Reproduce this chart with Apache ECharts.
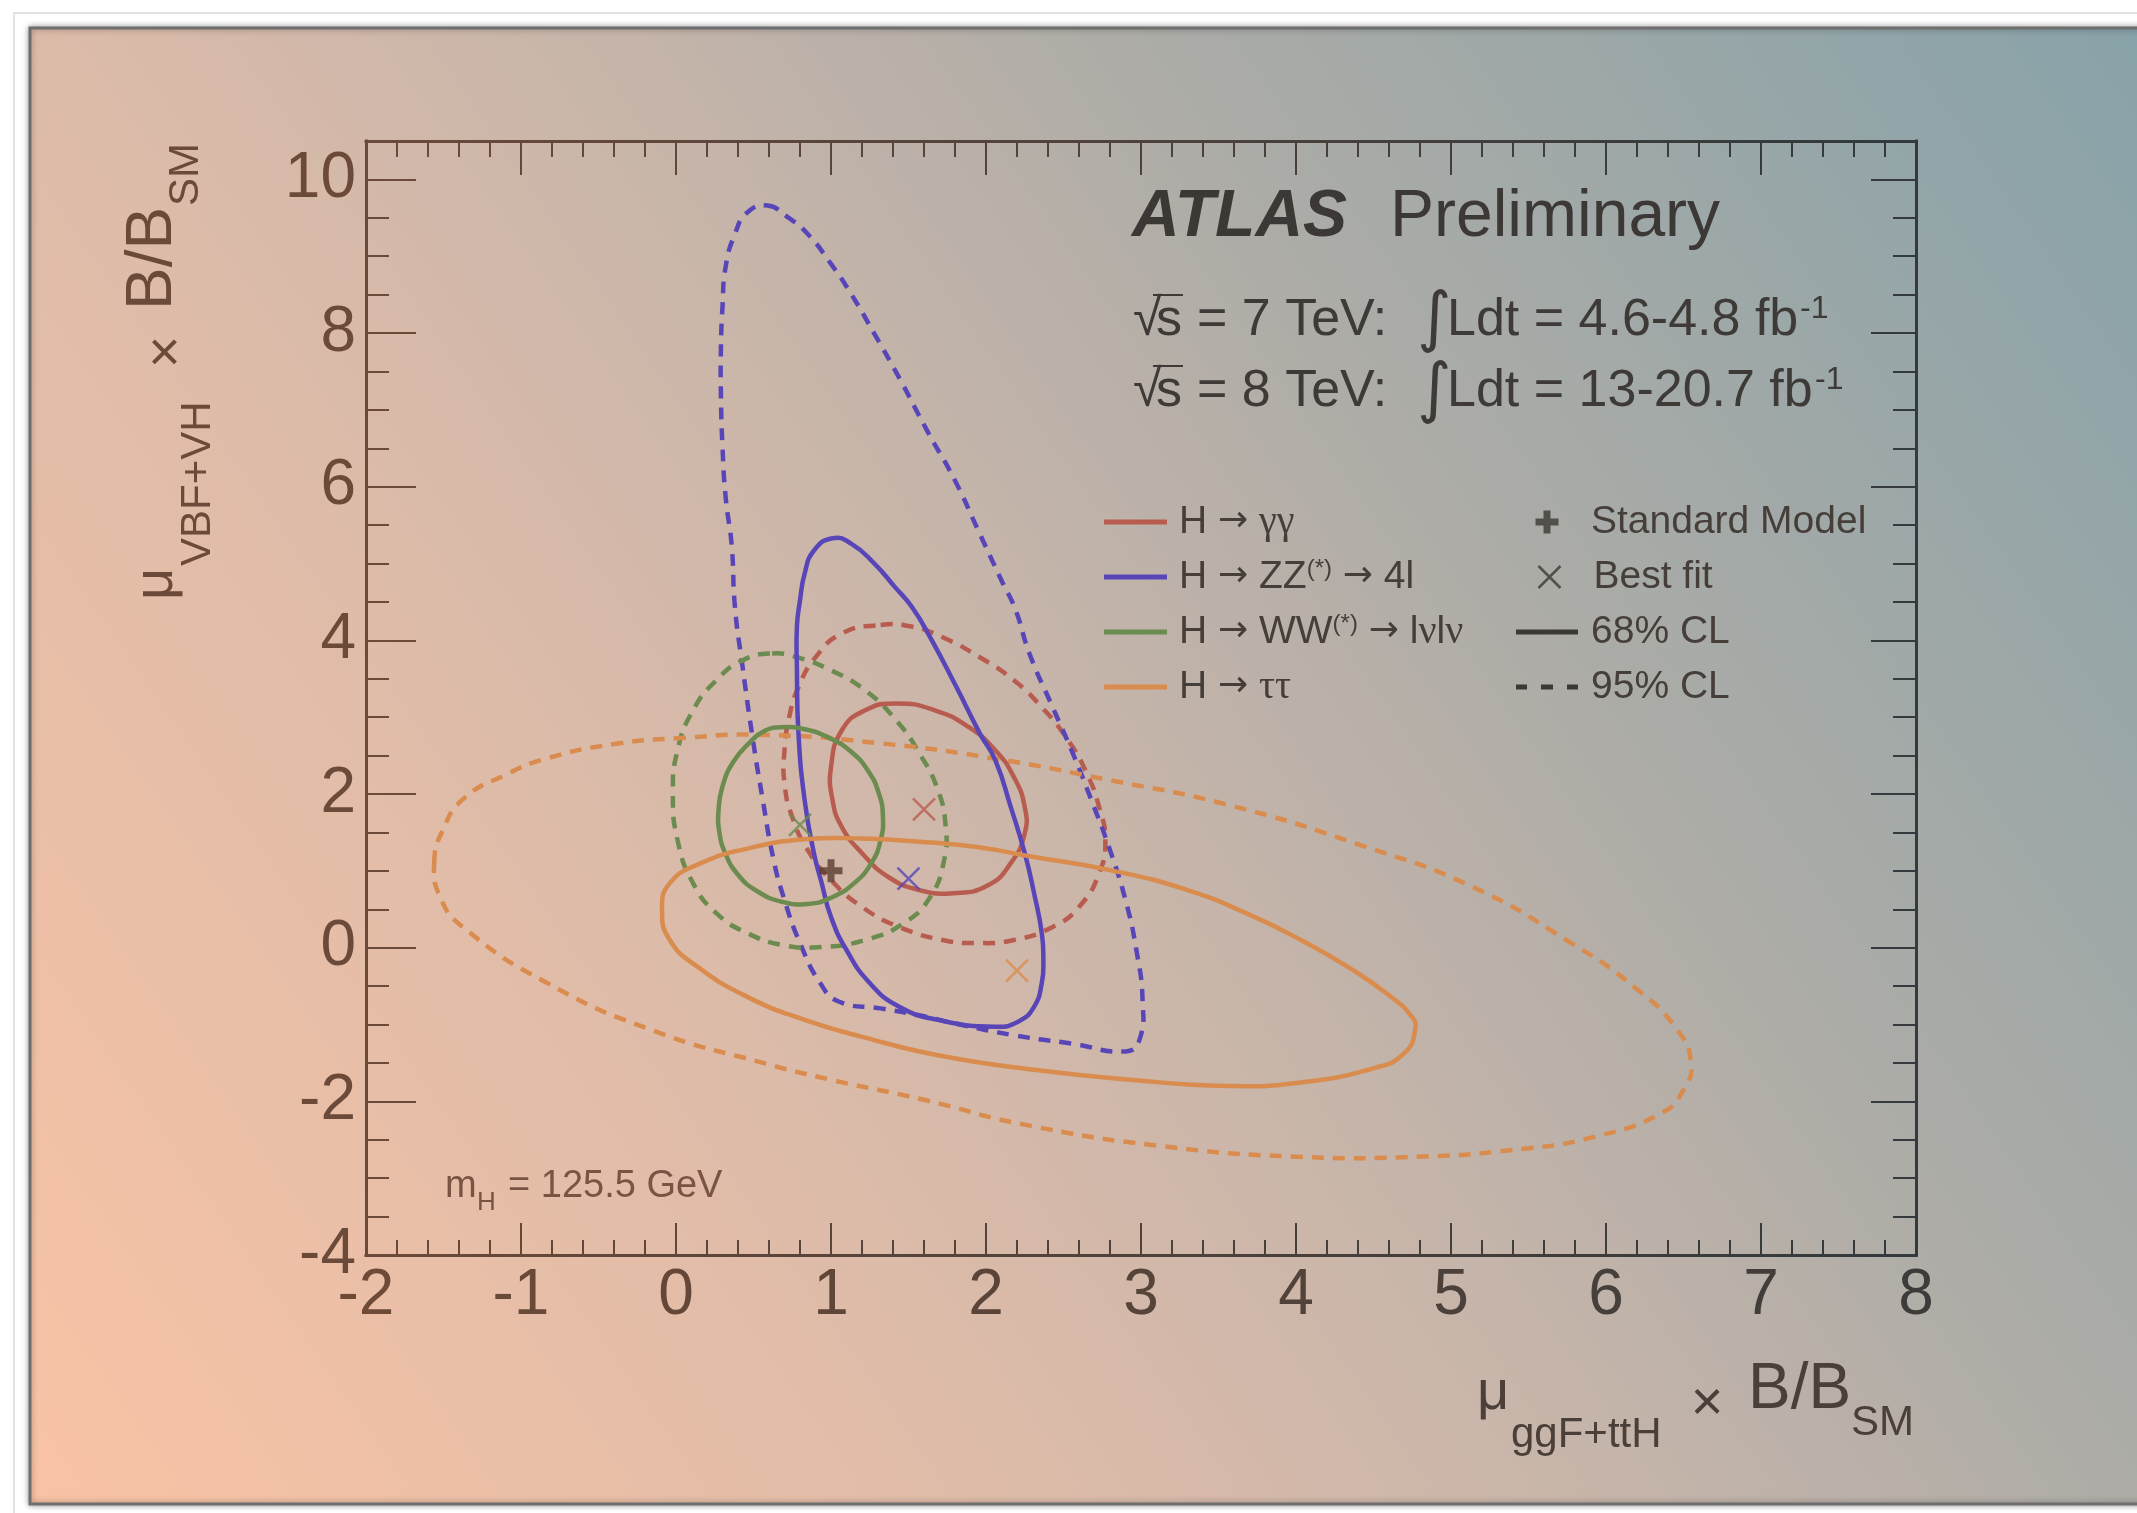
<!DOCTYPE html>
<html>
<head>
<meta charset="utf-8">
<script src="https://cdn.jsdelivr.net/npm/echarts@6/dist/echarts.min.js"></script>
<style>
  html, body { margin: 0; padding: 0; background: #ffffff; }
  #chart { width: 2137px; height: 1513px; }
</style>
</head>
<body>
<div id="chart"></div>
<script>
// ---- decay channels ----
const channels = ['H → γγ', 'H → ZZ(*) → 4l', 'H → WW(*) → lνlν', 'H → ττ'];
const channelColors = ['#b95c50', '#5846b9', '#6b8b4f', '#d98c4d'];

// ---- likelihood contours (μ_ggF+ttH, μ_VBF+VH), 68% CL ----
const gammaGamma68 = [[1.42,3.18],[1.67,3.09],[1.89,2.87],[2.06,2.57],[2.18,2.22],[2.25,1.83],[2.25,1.49],[2.16,1.10],[2.01,0.81],[1.79,0.71],[1.57,0.75],[1.37,0.92],[1.20,1.23],[1.07,1.57],[1.01,1.92],[1.00,2.35],[1.07,2.83],[1.22,3.09]];
const zz68 = [[1.01,5.33],[1.13,5.26],[1.28,5.00],[1.41,4.70],[1.52,4.44],[1.64,4.04],[1.81,3.39],[1.96,2.79],[2.06,2.44],[2.16,1.83],[2.25,1.23],[2.31,0.71],[2.36,0.19],[2.37,-0.16],[2.36,-0.46],[2.31,-0.77],[2.21,-0.96],[2.06,-1.03],[1.69,-0.94],[1.44,-0.77],[1.25,-0.46],[1.10,-0.03],[1.00,0.40],[0.94,0.84],[0.89,1.23],[0.83,1.92],[0.79,2.79],[0.78,3.65],[0.78,4.18],[0.80,4.52],[0.83,4.87],[0.89,5.17]];
const ww68 = [[0.68,2.87],[0.84,2.84],[0.99,2.73],[1.13,2.55],[1.24,2.30],[1.31,2.00],[1.335,1.70],[1.32,1.40],[1.26,1.10],[1.15,0.84],[1.00,0.65],[0.85,0.57],[0.68,0.60],[0.52,0.74],[0.40,0.95],[0.32,1.22],[0.28,1.50],[0.275,1.80],[0.30,2.10],[0.37,2.42],[0.48,2.68],[0.57,2.82]];
const tautau68 = [[-0.09,0.49],[-0.04,0.84],[0.16,1.10],[0.46,1.29],[0.83,1.41],[1.20,1.42],[1.57,1.38],[1.94,1.31],[2.31,1.18],[2.80,1.01],[3.30,0.75],[3.71,0.42],[4.05,0.08],[4.35,-0.27],[4.60,-0.62],[4.74,-0.88],[4.77,-1.05],[4.70,-1.37],[4.50,-1.57],[4.00,-1.76],[3.56,-1.80],[2.93,-1.72],[2.31,-1.59],[1.69,-1.40],[1.20,-1.16],[0.83,-0.94],[0.46,-0.64],[0.14,-0.25],[-0.04,0.10]];

// ---- 95% CL ----
const gammaGamma95 = [[1.32,4.20],[1.52,4.18],[1.72,4.04],[1.96,3.78],[2.18,3.48],[2.36,3.13],[2.53,2.70],[2.65,2.27],[2.73,1.83],[2.77,1.40],[2.73,0.97],[2.60,0.53],[2.43,0.27],[2.18,0.10],[1.94,0.06],[1.72,0.10],[1.44,0.27],[1.20,0.53],[1.00,0.88],[0.85,1.27],[0.75,1.70],[0.70,2.14],[0.70,2.57],[0.73,3.00],[0.79,3.39],[0.90,3.78],[1.07,4.09]];
const zz95 = [[0.59,9.66],[0.72,9.51],[0.85,9.29],[1.00,8.90],[1.13,8.51],[1.28,7.99],[1.45,7.38],[1.62,6.73],[1.80,6.08],[1.95,5.43],[2.10,4.78],[2.19,4.40],[2.28,3.83],[2.43,3.13],[2.56,2.53],[2.68,1.92],[2.80,1.27],[2.90,0.62],[2.97,-0.03],[3.01,-0.68],[2.99,-1.20],[2.90,-1.35],[2.56,-1.25],[2.18,-1.14],[1.81,-0.99],[1.57,-0.88],[1.32,-0.79],[1.05,-0.70],[0.93,-0.46],[0.80,0.06],[0.70,0.62],[0.63,1.14],[0.56,1.92],[0.49,2.79],[0.43,3.65],[0.38,4.44],[0.36,5.22],[0.32,5.87],[0.30,6.52],[0.29,7.17],[0.29,7.82],[0.30,8.34],[0.32,8.86],[0.38,9.29],[0.46,9.57]];
const ww95 = [[0.62,3.83],[0.78,3.78],[1.00,3.61],[1.22,3.35],[1.42,2.96],[1.57,2.53],[1.69,2.05],[1.74,1.57],[1.73,1.14],[1.64,0.66],[1.47,0.32],[1.22,0.10],[0.95,0.01],[0.70,0.03],[0.46,0.19],[0.26,0.45],[0.11,0.84],[0.01,1.40],[-0.02,2.01],[0.01,2.57],[0.11,3.09],[0.26,3.48],[0.43,3.74]];
const tautau95 = [[-1.56,1.11],[-1.50,1.55],[-1.37,1.94],[-1.10,2.25],[-0.84,2.46],[-0.40,2.65],[0.04,2.73],[0.58,2.77],[1.32,2.66],[2.06,2.46],[2.80,2.18],[3.56,1.86],[4.44,1.32],[5.14,0.79],[5.76,0.08],[6.20,-0.54],[6.46,-1.07],[6.55,-1.52],[6.50,-1.85],[6.37,-2.14],[5.93,-2.46],[5.41,-2.63],[4.79,-2.72],[4.00,-2.72],[3.12,-2.58],[2.24,-2.30],[1.60,-1.98],[1.00,-1.72],[0.58,-1.51],[-0.16,-1.07],[-0.84,-0.45],[-1.37,0.26],[-1.52,0.65]];

// ---- points ----
const bestFit = [[1.6,1.8],[1.5,0.9],[0.8,1.6],[2.2,-0.3]];   // same order as channels
const standardModel = [[1,1]];

// ---- axis ranges ----
const xRange = [-2, 8];
const yRange = [-4, 10.5];
const yLabelValues = [-4, -2, 0, 2, 4, 6, 8, 10];

// ---- styling helpers ----
const FONT = '"Liberation Sans", Arial, Helvetica, sans-serif';
const SERIF = '"Liberation Serif", "Times New Roman", serif';
const ARROWFONT = '"DejaVu Sans", sans-serif';
const BROWN = '#6c4a39';
const DARK = '#3b3936';

function hex(c) { return [1,3,5].map(i => parseInt(c.slice(i, i + 2), 16)); }
function mix(a, b, t) {
  const A = hex(a), B = hex(b);
  return 'rgb(' + A.map((v, i) => Math.round(v + (B[i] - v) * t)).join(',') + ')';
}

const GRID = { left: 366, top: 141, width: 1550, height: 1114 };
const hGrad = {
  type: 'linear', global: true, x: GRID.left, y: 0, x2: GRID.left + GRID.width, y2: 0,
  colorStops: [{ offset: 0, color: '#6b4a3a' }, { offset: 1, color: '#32393c' }]
};

// ---- series ----
const contourSets = [
  { c68: gammaGamma68, c95: gammaGamma95 },
  { c68: zz68, c95: zz95 },
  { c68: ww68, c95: ww95 },
  { c68: tautau68, c95: tautau95 }
];
const DASH = [12, 9];
const SMOOTH = 0.5;

// a closed, smoothed contour: the whole loop is drawn once, mapped through the cartesian axes
function contourSeries(name, pts, color, dashed, z) {
  return {
    type: 'custom', name, coordinateSystem: 'cartesian2d', data: pts, silent: true, z,
    encode: { x: 0, y: 1 },
    itemStyle: { color },
    renderItem: (params, api) => {
      if (params.dataIndex !== 0) return null;
      return {
        type: 'polygon',
        shape: { points: pts.map(p => api.coord(p)), smooth: SMOOTH },
        style: { fill: 'none', stroke: color, lineWidth: 4.5, lineDash: dashed ? DASH : null }
      };
    }
  };
}
const series = [];
contourSets.forEach((c, i) => series.push(contourSeries(channels[i] + ' 95%', c.c95, channelColors[i], true, 3)));
contourSets.forEach((c, i) => series.push(contourSeries(channels[i], c.c68, channelColors[i], false, 4)));

const CROSS = 'path://M0,0L10,10M10,0L0,10';
const PLUS = 'path://M8,0H15V8H23V15H15V23H8V15H0V8H8Z';
series.push({
  type: 'scatter', name: 'Best fit', symbol: CROSS, symbolSize: 22, silent: true, z: 6,
  itemStyle: { color: 'none', borderColor: DARK, borderWidth: 2.5 },
  data: bestFit.map((p, i) => ({ value: p, itemStyle: { color: 'none', borderColor: channelColors[i], borderWidth: 2.5 } }))
});
series.push({
  type: 'scatter', name: 'Standard Model', symbol: PLUS, symbolSize: 23, silent: true, z: 7,
  itemStyle: { color: '#5a3d2f' }, data: standardModel
});
series.push({ type: 'line', name: '68% CL', data: [], symbol: 'none', lineStyle: { color: DARK, width: 5 } });
series.push({ type: 'line', name: '95% CL', data: [], symbol: 'none', lineStyle: { color: DARK, width: 5, type: DASH } });

// ---- legends: one component per row ----
const rowCenters = [522, 577, 632, 687];
const legendText = {
  fontSize: 39, fontFamily: FONT, color: '#453e39', lineHeight: 40, padding: [0, 0, 0, 7],
  rich: {
    sup: { fontSize: 24, lineHeight: 40, verticalAlign: 'top' },
    ar: { fontSize: 36, fontFamily: ARROWFONT, lineHeight: 40 },
    gr: { fontSize: 40, fontFamily: SERIF, lineHeight: 40 }
  }
};
const legendLabels = {
  'H → γγ': 'H {ar|→} {gr|γγ}',
  'H → ZZ(*) → 4l': 'H {ar|→} ZZ{sup|(*)} {ar|→} 4l',
  'H → WW(*) → lνlν': 'H {ar|→} WW{sup|(*)} {ar|→} l{gr|ν}l{gr|ν}',
  'H → ττ': 'H {ar|→} {gr|ττ}'
};
const legends = [];
channels.forEach((name, i) => {
  legends.push({
    data: [{ name, icon: 'rect', itemStyle: { color: channelColors[i] } }],
    left: 1104, top: rowCenters[i] - 20, padding: 0, itemWidth: 63, itemHeight: 5,
    selectedMode: false, formatter: n => legendLabels[n], textStyle: legendText
  });
});
// symbol icons are centred in the item box, so the box edge shifts by half the spare width
const keyItems = [
  { name: 'Standard Model', icon: PLUS, itemStyle: { color: '#3c3935' }, h: 23 },
  { name: 'Best fit', icon: CROSS, itemStyle: { color: 'none', borderColor: '#3c3935', borderWidth: 2.5 }, h: 22 },
  { name: '68% CL', icon: 'rect', itemStyle: { color: '#3c3935' }, h: 5 },
  { name: '95% CL', icon: 'path://M0,0H11V5H0Z M25,0H37V5H25Z M51,0H62V5H51Z', itemStyle: { color: '#3c3935' }, h: 5 }
];
const KEY_W = 62;
keyItems.forEach((it, i) => {
  const spare = it.h < KEY_W && it.icon !== 'rect' && it.h > 5 ? (KEY_W - it.h) / 2 : 0;
  legends.push({
    data: [{ name: it.name, icon: it.icon, itemStyle: it.itemStyle }],
    left: 1516 + spare, top: rowCenters[i] - 20, padding: 0, itemWidth: KEY_W, itemHeight: it.h,
    selectedMode: false, textStyle: Object.assign({}, legendText, { padding: [0, 0, 0, 8] })
  });
});

// ---- text blocks built from pieces (baseline-relative) ----
function piece(text, along, off, fs, color, extra) {
  return {
    type: 'text', x: along, y: off - 0.35 * fs, silent: true,
    style: Object.assign({ text, fontSize: fs, fontFamily: FONT, fill: color, align: 'left', verticalAlign: 'middle' }, extra || {})
  };
}
const titleColorX = '#4b4039';
const xTitle = {
  type: 'group', x: 1477, y: 1413, z: 50, children: [
    piece('μ', 0, 0, 56, titleColorX),
    piece('ggF+ttH', 34, 37, 42, titleColorX),
    piece('×', 230, 11, 56, titleColorX, { align: 'center' }),
    piece('B/B', 271, 0, 64, titleColorX),
    piece('SM', 374, 25, 42, titleColorX)
  ]
};
const yTitle = {
  type: 'group', x: 176, y: 600, rotation: Math.PI / 2, z: 50, children: [
    piece('μ', 0, 0, 56, BROWN),
    piece('VBF+VH', 34, 37, 42, BROWN),
    piece('×', 248, 11, 56, BROWN, { align: 'center' }),
    piece('B/B', 290, 0, 64, BROWN),
    piece('SM', 394, 25, 42, BROWN)
  ]
};
const massLabel = {
  type: 'group', x: 445, y: 1200, z: 50, children: [
    piece('m', 0, 0, 38, '#7a5442'),
    piece('H', 32, 12, 26, '#7a5442'),
    piece('= 125.5 GeV', 63, 0, 38, '#7a5442')
  ]
};
const TXT = '#3d3a37';
function lumiLine(baseline, sqrtsText, lumiText, supX) {
  return {
    type: 'group', x: 0, y: baseline, z: 50, children: [
      piece('√', 1133, 0, 52, TXT),
      piece('s', 1156, 0, 52, TXT),
      { type: 'line', silent: true, shape: { x1: 1153, y1: -44, x2: 1183, y2: -44 }, style: { stroke: TXT, lineWidth: 2 } },
      piece(sqrtsText, 1197, 0, 52, TXT),
      piece('∫', 1417, 6, 66, TXT, { fontFamily: '"DejaVu Sans", sans-serif' }),
      piece(lumiText, 1447, 0, 52, TXT),
      piece('-1', supX, -19, 32, TXT)
    ]
  };
}
const atlasLabel = {
  type: 'group', x: 0, y: 241, z: 50, children: [
    piece('ATLAS', 1132, 0, 66, '#3b3835', { fontWeight: 'bold', fontStyle: 'italic' }),
    piece('Preliminary', 1390, 0, 66, '#3b3835')
  ]
};

// ---- backdrop ----
const panel = {
  type: 'rect', z: -20, silent: true,
  shape: { x: 30, y: 28, width: 2130, height: 1476 },
  style: {
    fill: {
      type: 'linear', x: 0, y: 1, x2: 1, y2: 0,
      colorStops: [
        { offset: 0, color: '#f9c3a5' }, { offset: 0.33, color: '#dcbba9' },
        { offset: 0.5, color: '#c7b5aa' }, { offset: 0.67, color: '#adaca7' },
        { offset: 1, color: '#87a2a9' }
      ]
    },
    stroke: '#6e6e6e', lineWidth: 3,
    shadowBlur: 6, shadowColor: 'rgba(0,0,0,0.35)'
  }
};
const pageEdge = {
  type: 'rect', z: -30, silent: true,
  shape: { x: 14, y: 13, width: 2140, height: 1510 },
  style: { fill: '#ffffff', stroke: '#e3e3e3', lineWidth: 2 }
};

// ---- axes ----
function xAxis(pos, major, minor, labels) {
  return {
    type: 'value', position: pos, min: xRange[0], max: xRange[1], interval: 1,
    axisLine: { show: true, onZero: false, lineStyle: { color: hGrad, width: 3, cap: 'square' } },
    axisTick: { show: true, inside: true, length: major, lineStyle: { color: hGrad, width: 2 } },
    minorTick: { show: true, splitNumber: 5, length: minor, lineStyle: { color: hGrad, width: 2 } },
    splitLine: { show: false }, minorSplitLine: { show: false },
    axisLabel: labels ? {
      show: true, margin: 9, fontSize: 64, fontFamily: FONT, showMinLabel: true, showMaxLabel: true,
      color: v => mix('#6e4a38', '#3d3c3b', (parseFloat(v) - xRange[0]) / (xRange[1] - xRange[0]))
    } : { show: false }
  };
}
function yAxis(pos, interval, tickLen, color, withLine, labels) {
  return {
    type: 'value', position: pos, min: yRange[0], max: yRange[1], interval,
    axisLine: { show: withLine, onZero: false, lineStyle: { color, width: 3, cap: 'square' } },
    axisTick: { show: true, inside: true, length: tickLen, lineStyle: { color, width: 2 } },
    splitLine: { show: false },
    axisLabel: labels ? {
      show: true, margin: 10, fontSize: 64, fontFamily: FONT, color: BROWN,
      showMinLabel: true, showMaxLabel: false,
      formatter: v => (yLabelValues.indexOf(Number(v)) >= 0 ? String(v) : '')
    } : { show: false }
  };
}

const option = {
  animation: false,
  backgroundColor: '#ffffff',
  grid: Object.assign({ containLabel: false, outerBoundsMode: 'none' }, GRID),
  xAxis: [xAxis('bottom', 32, 15, true), xAxis('top', 34, 16, false)],
  yAxis: [
    yAxis('left', 2, 50, BROWN, true, true),
    yAxis('left', 0.5, 23, BROWN, false, false),
    yAxis('right', 2, 45, '#343a3d', true, false),
    yAxis('right', 0.5, 23, '#343a3d', false, false)
  ],
  legend: legends,
  graphic: [pageEdge, panel, atlasLabel,
    lumiLine(339, '= 7 TeV:', 'Ldt = 4.6-4.8 fb', 1800),
    lumiLine(410, '= 8 TeV:', 'Ldt = 13-20.7 fb', 1815),
    massLabel, xTitle, yTitle],
  series: series.map(s => Object.assign({ xAxisIndex: 0, yAxisIndex: 0 }, s))
};

const chart = echarts.init(document.getElementById('chart'));
chart.setOption(option);
</script>
</body>
</html>
